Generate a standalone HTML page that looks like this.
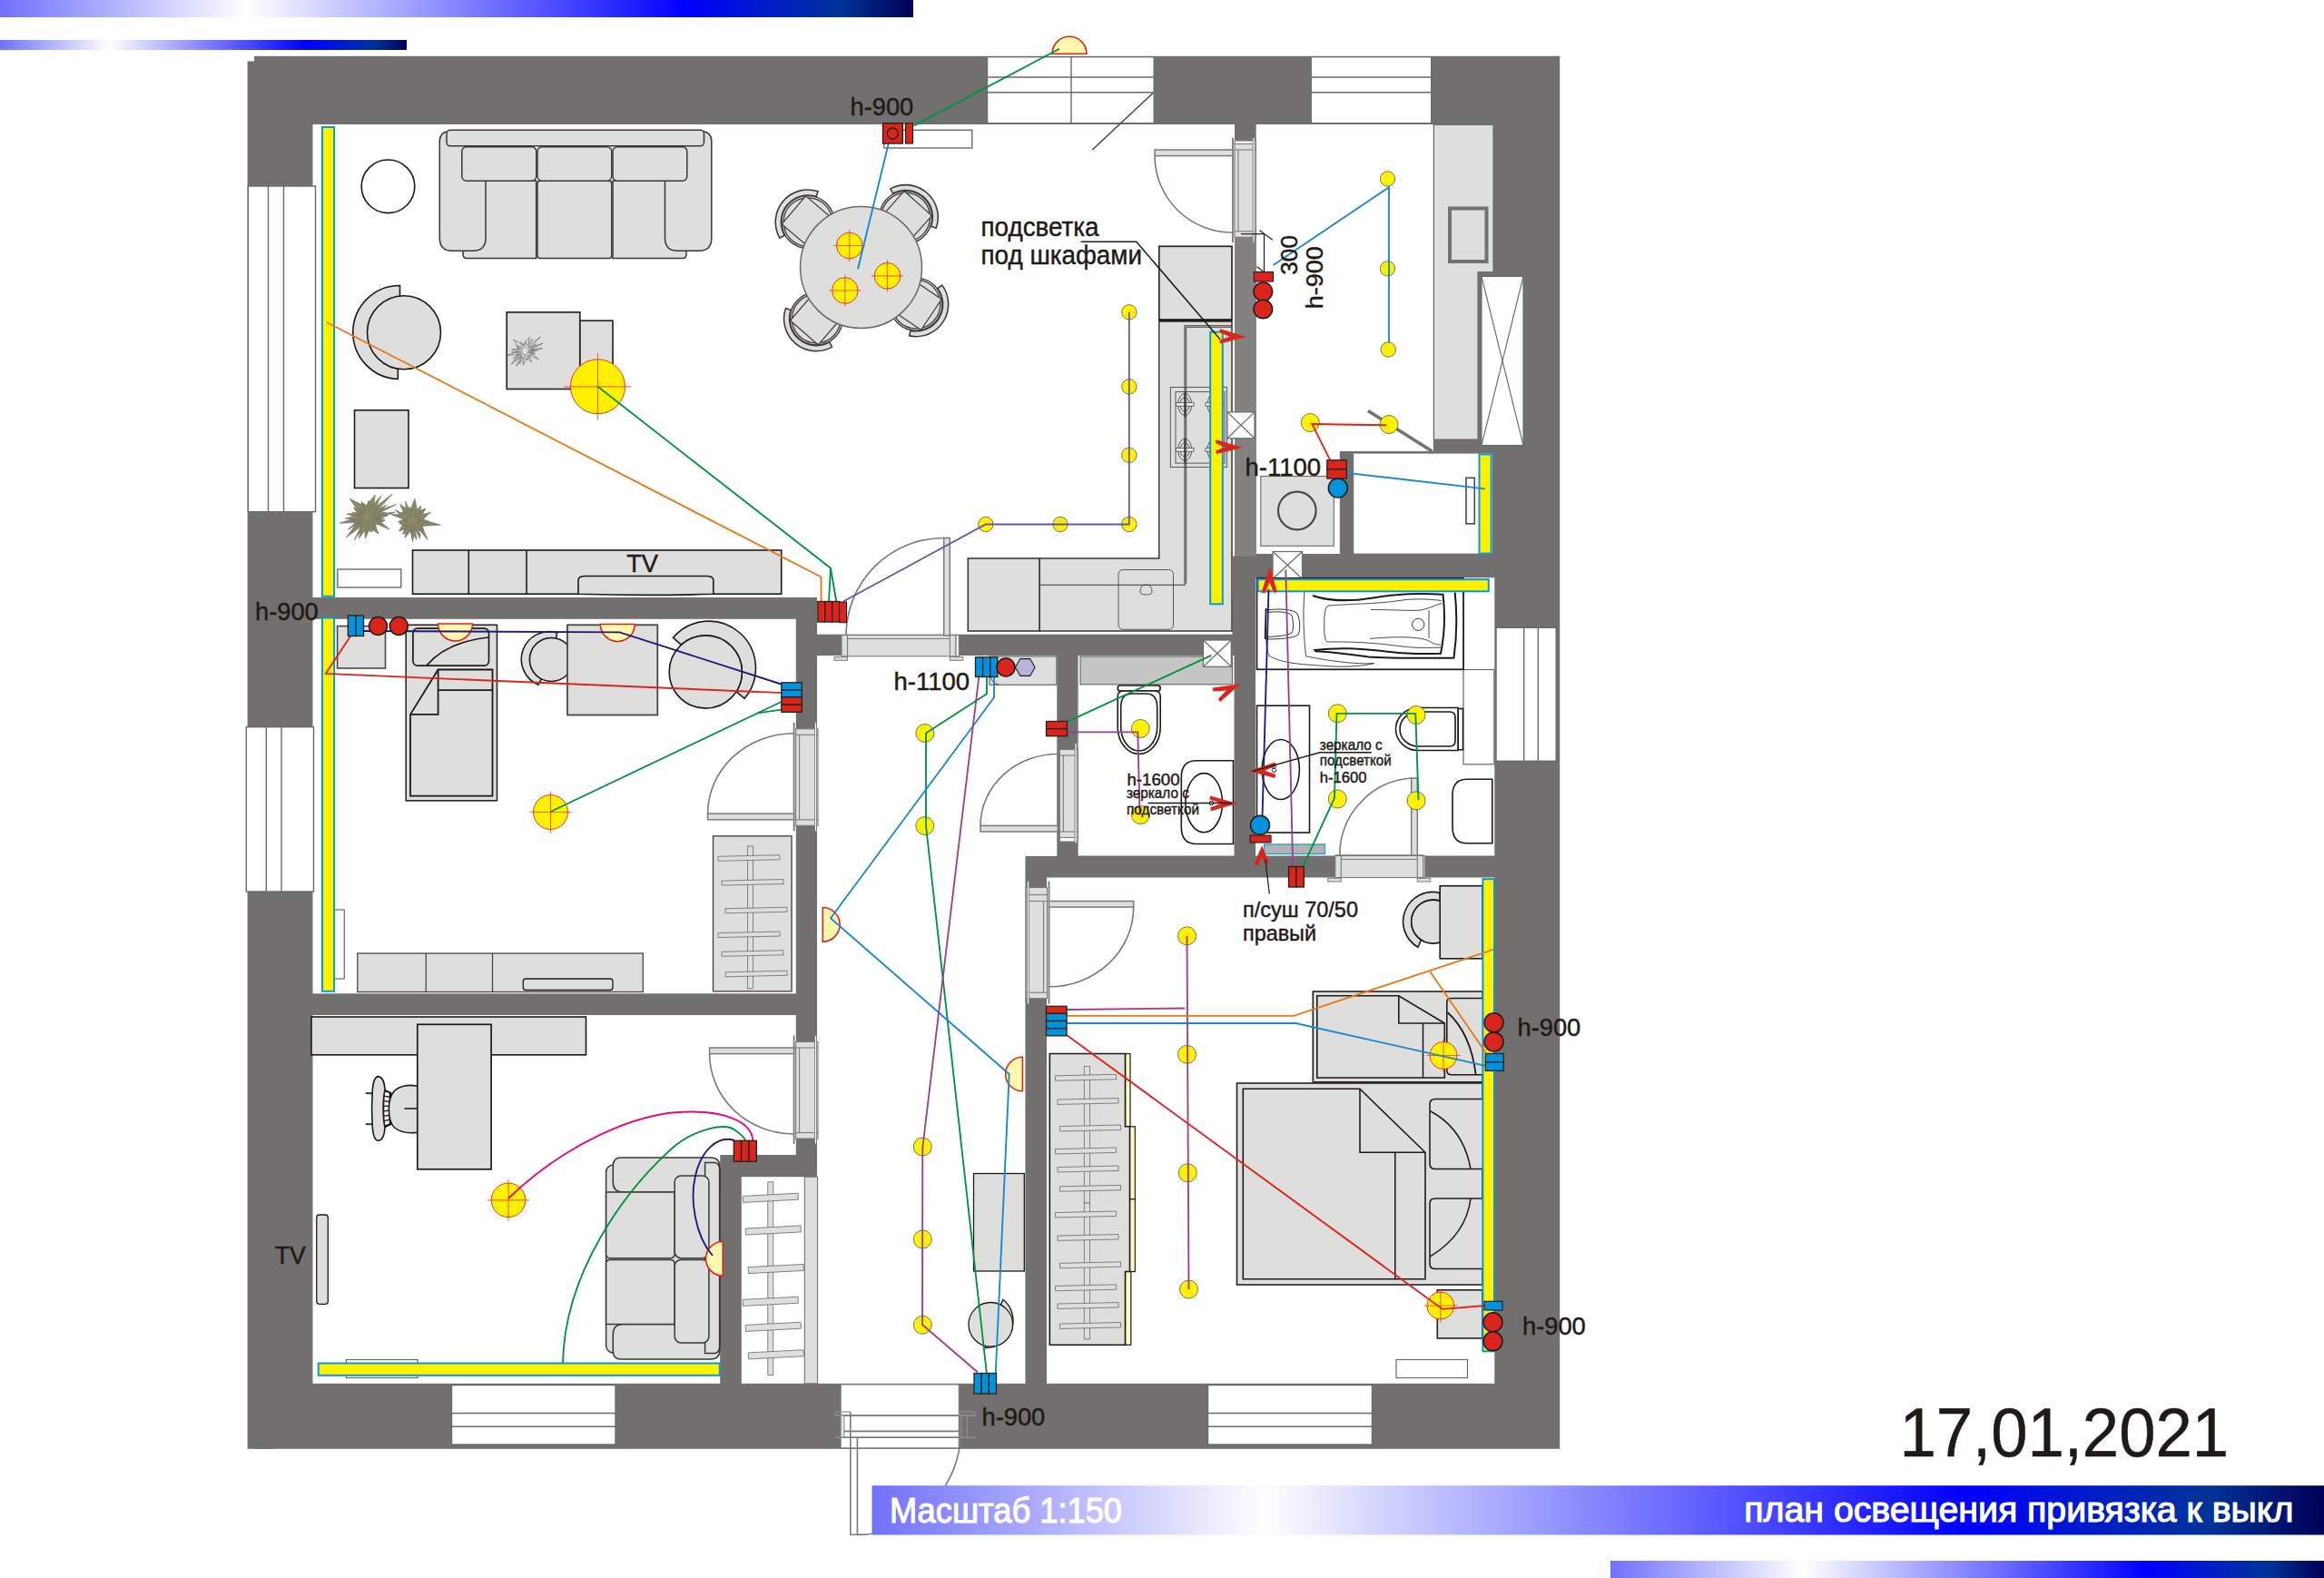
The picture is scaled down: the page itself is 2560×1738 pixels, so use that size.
<!DOCTYPE html>
<html><head><meta charset="utf-8"><title>план освещения</title>
<style>
html,body{margin:0;padding:0;background:#fff;}
body{width:2560px;height:1738px;overflow:hidden;}
svg{display:block;font-family:"Liberation Sans",sans-serif;}
</style></head><body>
<svg width="2560" height="1738" viewBox="0 0 2560 1738">
<defs>
<linearGradient id="gbar" x1="0" x2="1" y1="0" y2="0">
<stop offset="0" stop-color="#7070fc"/>
<stop offset="0.27" stop-color="#ffffff"/>
<stop offset="0.75" stop-color="#0000ff"/>
<stop offset="0.92" stop-color="#003399"/>
<stop offset="1" stop-color="#000055"/>
</linearGradient>
</defs>
<rect x="0.0" y="0.0" width="2560.0" height="1738.0" fill="#fff" stroke="none" stroke-width="1" />
<rect x="280.0" y="61.8" width="1438.2" height="1534.0" fill="#72706f" stroke="none" stroke-width="1" />
<rect x="272.6" y="67.5" width="27.4" height="1528.3" fill="#72706f" stroke="none" stroke-width="1" />
<rect x="344.5" y="137.0" width="1015.5" height="521.0" fill="#fff" stroke="none" stroke-width="1" />
<rect x="900.0" y="658.0" width="457.5" height="40.7" fill="#fff" stroke="none" stroke-width="1" />
<rect x="900.0" y="722.0" width="264.3" height="221.0" fill="#fff" stroke="none" stroke-width="1" />
<rect x="900.0" y="943.0" width="229.4" height="580.8" fill="#fff" stroke="none" stroke-width="1" />
<rect x="344.5" y="681.8" width="532.3" height="412.5" fill="#fff" stroke="none" stroke-width="1" />
<rect x="344.5" y="1118.0" width="532.3" height="154.0" fill="#fff" stroke="none" stroke-width="1" />
<rect x="344.5" y="1272.0" width="448.7" height="251.8" fill="#fff" stroke="none" stroke-width="1" />
<rect x="816.8" y="1296.2" width="83.8" height="227.6" fill="#fff" stroke="none" stroke-width="1" />
<rect x="1187.6" y="722.0" width="171.9" height="220.5" fill="#fff" stroke="none" stroke-width="1" />
<rect x="1383.0" y="636.3" width="263.3" height="306.2" fill="#fff" stroke="none" stroke-width="1" />
<rect x="1153.0" y="966.5" width="493.3" height="557.3" fill="#fff" stroke="none" stroke-width="1" />
<rect x="1383.7" y="137.0" width="195.1" height="360.0" fill="#fff" stroke="none" stroke-width="1" />
<rect x="1383.7" y="497.0" width="92.1" height="113.0" fill="#fff" stroke="none" stroke-width="1" />
<rect x="1491.2" y="499.6" width="152.6" height="110.0" fill="#fff" stroke="none" stroke-width="1" />
<rect x="1360.0" y="259.5" width="23.7" height="353.0" fill="#838281" stroke="none" stroke-width="1" />
<rect x="273.3" y="205.0" width="74.2" height="358.7" fill="#fff" stroke="#6b6a69" stroke-width="1.4" />
<line x1="295.5" y1="205.0" x2="295.5" y2="563.7" stroke="#6b6a69" stroke-width="1.4" />
<line x1="312.5" y1="205.0" x2="312.5" y2="563.7" stroke="#6b6a69" stroke-width="1.4" />
<rect x="271.3" y="800.7" width="74.2" height="181.3" fill="#fff" stroke="#6b6a69" stroke-width="1.4" />
<line x1="293.3" y1="800.7" x2="293.3" y2="982.0" stroke="#6b6a69" stroke-width="1.4" />
<line x1="310.0" y1="800.7" x2="310.0" y2="982.0" stroke="#6b6a69" stroke-width="1.4" />
<rect x="1087.5" y="62.7" width="183.7" height="73.0" fill="#fff" stroke="#6b6a69" stroke-width="1.4" />
<line x1="1087.5" y1="85.0" x2="1271.2" y2="85.0" stroke="#6b6a69" stroke-width="1.4" />
<line x1="1087.5" y1="101.7" x2="1271.2" y2="101.7" stroke="#6b6a69" stroke-width="1.4" />
<line x1="1180.0" y1="62.7" x2="1180.0" y2="135.7" stroke="#6b6a69" stroke-width="1.4" />
<rect x="1444.2" y="62.7" width="132.5" height="73.0" fill="#fff" stroke="#6b6a69" stroke-width="1.4" />
<line x1="1444.2" y1="85.0" x2="1576.7" y2="85.0" stroke="#6b6a69" stroke-width="1.4" />
<line x1="1444.2" y1="101.7" x2="1576.7" y2="101.7" stroke="#6b6a69" stroke-width="1.4" />
<rect x="497.5" y="1525.5" width="180.5" height="65.5" fill="#fff" stroke="#6b6a69" stroke-width="1.4" />
<line x1="497.5" y1="1556.5" x2="678.0" y2="1556.5" stroke="#6b6a69" stroke-width="1.4" />
<line x1="497.5" y1="1571.3" x2="678.0" y2="1571.3" stroke="#6b6a69" stroke-width="1.4" />
<rect x="1330.5" y="1525.5" width="181.0" height="65.5" fill="#fff" stroke="#6b6a69" stroke-width="1.4" />
<line x1="1330.5" y1="1556.5" x2="1511.5" y2="1556.5" stroke="#6b6a69" stroke-width="1.4" />
<line x1="1330.5" y1="1571.3" x2="1511.5" y2="1571.3" stroke="#6b6a69" stroke-width="1.4" />
<rect x="1648.0" y="691.3" width="66.2" height="147.0" fill="#fff" stroke="#6b6a69" stroke-width="1.4" />
<line x1="1678.7" y1="691.3" x2="1678.7" y2="838.3" stroke="#6b6a69" stroke-width="1.4" />
<line x1="1694.3" y1="691.3" x2="1694.3" y2="838.3" stroke="#6b6a69" stroke-width="1.4" />
<rect x="876.6" y="802.8" width="24.4" height="106.5" fill="#dededd" stroke="#7b7a79" stroke-width="1.1" />
<line x1="876.6" y1="809.3" x2="901.0" y2="809.3" stroke="#7b7a79" stroke-width="1.1" />
<line x1="876.6" y1="902.8" x2="901.0" y2="902.8" stroke="#7b7a79" stroke-width="1.1" />
<line x1="874.6" y1="795.8" x2="874.6" y2="915.3" stroke="#7b7a79" stroke-width="1.8" />
<rect x="897.5" y="795.8" width="2.0" height="119.5" fill="#fff" stroke="#7b7a79" stroke-width="0.9" />
<line x1="880.6" y1="809.3" x2="880.6" y2="902.8" stroke="#7b7a79" stroke-width="1.1" />
<rect x="779.6" y="896.2" width="95.0" height="6.6" fill="#dededd" stroke="#7b7a79" stroke-width="1.5" />
<path d="M779.6,896.2 A95.0,88.4 0 0 1 874.6,807.8" fill="none" stroke="#7b7a79" stroke-width="1.6" />
<rect x="876.6" y="1147.5" width="24.4" height="106.5" fill="#dededd" stroke="#7b7a79" stroke-width="1.1" />
<line x1="876.6" y1="1154.0" x2="901.0" y2="1154.0" stroke="#7b7a79" stroke-width="1.1" />
<line x1="876.6" y1="1247.5" x2="901.0" y2="1247.5" stroke="#7b7a79" stroke-width="1.1" />
<line x1="874.6" y1="1140.5" x2="874.6" y2="1260.0" stroke="#7b7a79" stroke-width="1.8" />
<rect x="897.5" y="1140.5" width="2.0" height="119.5" fill="#fff" stroke="#7b7a79" stroke-width="0.9" />
<line x1="880.6" y1="1154.0" x2="880.6" y2="1247.5" stroke="#7b7a79" stroke-width="1.1" />
<rect x="781.6" y="1154.0" width="93.0" height="6.6" fill="#dededd" stroke="#7b7a79" stroke-width="1.5" />
<path d="M781.6,1160.6 A93.0,88.4 0 0 0 874.6,1249.0" fill="none" stroke="#7b7a79" stroke-width="1.6" />
<rect x="1167.3" y="922.5" width="20.2" height="4.5" fill="#fff" stroke="#7b7a79" stroke-width="1.1" />
<rect x="1167.3" y="825.5" width="20.2" height="97.0" fill="#dededd" stroke="#7b7a79" stroke-width="1.1" />
<line x1="1167.3" y1="832.0" x2="1187.5" y2="832.0" stroke="#7b7a79" stroke-width="1.1" />
<line x1="1167.3" y1="916.0" x2="1187.5" y2="916.0" stroke="#7b7a79" stroke-width="1.1" />
<line x1="1165.3" y1="818.5" x2="1165.3" y2="928.5" stroke="#7b7a79" stroke-width="1.8" />
<rect x="1184.0" y="818.5" width="2.0" height="110.0" fill="#fff" stroke="#7b7a79" stroke-width="0.9" />
<line x1="1171.3" y1="832.0" x2="1171.3" y2="916.0" stroke="#7b7a79" stroke-width="1.1" />
<rect x="1080.0" y="909.4" width="85.3" height="6.6" fill="#dededd" stroke="#7b7a79" stroke-width="1.5" />
<path d="M1080.0,909.4 A85.3,78.9 0 0 1 1165.3,830.5" fill="none" stroke="#7b7a79" stroke-width="1.6" />
<rect x="1130.0" y="977.5" width="23.5" height="122.2" fill="#dededd" stroke="#7b7a79" stroke-width="1.1" />
<line x1="1130.0" y1="992.5" x2="1153.5" y2="992.5" stroke="#7b7a79" stroke-width="1.1" />
<line x1="1130.0" y1="1093.2" x2="1153.5" y2="1093.2" stroke="#7b7a79" stroke-width="1.1" />
<line x1="1130.0" y1="985.5" x2="1153.5" y2="985.5" stroke="#7b7a79" stroke-width="1.1" />
<line x1="1155.5" y1="970.5" x2="1155.5" y2="1105.7" stroke="#7b7a79" stroke-width="1.8" />
<rect x="1131.5" y="970.5" width="2.0" height="135.2" fill="#fff" stroke="#7b7a79" stroke-width="0.9" />
<line x1="1149.5" y1="992.5" x2="1149.5" y2="1093.2" stroke="#7b7a79" stroke-width="1.1" />
<rect x="1155.5" y="992.5" width="93.2" height="6.6" fill="#dededd" stroke="#7b7a79" stroke-width="1.5" />
<path d="M1248.7,999.1 A93.2,87.7 0 0 1 1155.5,1086.8" fill="none" stroke="#7b7a79" stroke-width="1.6" />
<rect x="1360.0" y="155.0" width="23.5" height="3.5" fill="#fff" stroke="#7b7a79" stroke-width="1.1" />
<rect x="1360.0" y="158.5" width="23.5" height="102.8" fill="#dededd" stroke="#7b7a79" stroke-width="1.1" />
<line x1="1360.0" y1="165.0" x2="1383.5" y2="165.0" stroke="#7b7a79" stroke-width="1.1" />
<line x1="1360.0" y1="254.8" x2="1383.5" y2="254.8" stroke="#7b7a79" stroke-width="1.1" />
<line x1="1358.0" y1="151.5" x2="1358.0" y2="267.3" stroke="#7b7a79" stroke-width="1.8" />
<rect x="1380.0" y="151.5" width="2.0" height="115.8" fill="#fff" stroke="#7b7a79" stroke-width="0.9" />
<line x1="1364.0" y1="165.0" x2="1364.0" y2="254.8" stroke="#7b7a79" stroke-width="1.1" />
<rect x="1272.0" y="165.0" width="86.0" height="6.6" fill="#dededd" stroke="#7b7a79" stroke-width="1.5" />
<path d="M1272.0,171.6 A86.0,84.7 0 0 0 1358.0,256.3" fill="none" stroke="#7b7a79" stroke-width="1.6" />
<rect x="1052.8" y="699.5" width="3.5" height="23.3" fill="#fff" stroke="#7b7a79" stroke-width="1.1" />
<rect x="927.0" y="699.5" width="125.8" height="23.3" fill="#dededd" stroke="#7b7a79" stroke-width="1.1" />
<line x1="933.5" y1="699.5" x2="933.5" y2="722.8" stroke="#7b7a79" stroke-width="1.1" />
<line x1="1046.3" y1="699.5" x2="1046.3" y2="722.8" stroke="#7b7a79" stroke-width="1.1" />
<rect x="919.0" y="723.6" width="14.5" height="3.7" fill="#dededd" stroke="#7b7a79" stroke-width="1" />
<rect x="1046.3" y="723.6" width="14.5" height="3.7" fill="#dededd" stroke="#7b7a79" stroke-width="1" />
<line x1="933.5" y1="703.5" x2="1046.3" y2="703.5" stroke="#7b7a79" stroke-width="1.1" />
<rect x="1039.7" y="592.5" width="6.6" height="107.5" fill="#dededd" stroke="#7b7a79" stroke-width="1.5" />
<path d="M1039.7,592.5 A107.5,107.5 0 0 0 932.0,700.0" fill="none" stroke="#7b7a79" stroke-width="1.6" />
<rect x="1567.8" y="942.5" width="2.0" height="24.0" fill="#fff" stroke="#7b7a79" stroke-width="1.1" />
<rect x="1470.8" y="942.5" width="97.0" height="24.0" fill="#dededd" stroke="#7b7a79" stroke-width="1.1" />
<line x1="1477.3" y1="942.5" x2="1477.3" y2="966.5" stroke="#7b7a79" stroke-width="1.1" />
<line x1="1561.3" y1="942.5" x2="1561.3" y2="966.5" stroke="#7b7a79" stroke-width="1.1" />
<line x1="1470.8" y1="942.0" x2="1567.8" y2="942.0" stroke="#7b7a79" stroke-width="1.6" />
<rect x="1462.8" y="967.3" width="14.5" height="3.7" fill="#dededd" stroke="#7b7a79" stroke-width="1" />
<rect x="1561.3" y="967.3" width="14.5" height="3.7" fill="#dededd" stroke="#7b7a79" stroke-width="1" />
<line x1="1477.3" y1="946.5" x2="1561.3" y2="946.5" stroke="#7b7a79" stroke-width="1.1" />
<rect x="1554.7" y="857.0" width="6.6" height="85.0" fill="#dededd" stroke="#7b7a79" stroke-width="1.5" />
<path d="M1554.7,857.0 A85.0,85.0 0 0 0 1475.8,942.0" fill="none" stroke="#7b7a79" stroke-width="1.6" />
<rect x="926.0" y="1524.7" width="130.5" height="70.3" fill="#fff" stroke="#7b7a79" stroke-width="1.5" />
<rect x="920.3" y="1555.0" width="16.5" height="4.0" fill="none" stroke="#8f8e8d" stroke-width="1.2" />
<rect x="1057.0" y="1555.0" width="17.3" height="4.0" fill="none" stroke="#8f8e8d" stroke-width="1.2" />
<line x1="920.3" y1="1559.0" x2="1074.3" y2="1559.0" stroke="#8f8e8d" stroke-width="1.5" />
<line x1="920.3" y1="1583.3" x2="1074.3" y2="1583.3" stroke="#8f8e8d" stroke-width="1.5" />
<line x1="926.0" y1="1559.0" x2="1056.5" y2="1559.0" stroke="#7b7a79" stroke-width="1.6" />
<line x1="929.8" y1="1576.4" x2="1065.4" y2="1576.4" stroke="#7b7a79" stroke-width="1.6" />
<line x1="926.0" y1="1583.3" x2="1056.5" y2="1583.3" stroke="#7b7a79" stroke-width="1.6" />
<rect x="926.2" y="1559.0" width="3.6" height="24.0" fill="#e8e8e8" stroke="#8f8e8d" stroke-width="1.1" />
<line x1="1059.0" y1="1559.0" x2="1059.0" y2="1583.0" stroke="#8f8e8d" stroke-width="1.2" />
<line x1="1065.4" y1="1559.0" x2="1065.4" y2="1583.0" stroke="#8f8e8d" stroke-width="1.2" />
<path d="M936.8,1555.8 L936.8,1690.3 L944.4,1690.3 L944.4,1583.3" fill="none" stroke="#7b7a79" stroke-width="1.6" />
<path d="M1058.4,1576.4 A114,114 0 0 1 944.4,1690.4" fill="none" stroke="#7b7a79" stroke-width="1.6" />
<circle cx="427.5" cy="205.3" r="29.3" fill="#fff" stroke="#1f1a17" stroke-width="1.6" />
<path d="M510,199 L510,280 Q510,284.5 514,284.5 L590.7,284.5 L590.7,199 Z" fill="#dededd" stroke="#3b3733" stroke-width="1.5" />
<rect x="592.0" y="199.3" width="81.8" height="85.2" rx="3" ry="3" fill="#dededd" stroke="#3b3733" stroke-width="1.5"/>
<path d="M675,199 L675,284.5 L752,284.5 Q756,284.5 756,280 L756,199 Z" fill="#dededd" stroke="#3b3733" stroke-width="1.5" />
<path d="M484.3,155 Q484.3,146 494,144.5 L535,146 L535,262 Q535,276.3 521,276.3 L498,276.3 Q484.3,276.3 484.3,262 Z" fill="#dededd" stroke="#3b3733" stroke-width="1.5" />
<path d="M783.8,155 Q783.8,146 774,144.5 L732.5,146 L732.5,262 Q732.5,276.3 746.5,276.3 L770,276.3 Q783.8,276.3 783.8,262 Z" fill="#dededd" stroke="#3b3733" stroke-width="1.5" />
<rect x="508.8" y="161.8" width="82.0" height="37.5" rx="5" ry="5" fill="#dededd" stroke="#3b3733" stroke-width="1.5"/>
<rect x="592.0" y="161.8" width="81.8" height="37.5" rx="5" ry="5" fill="#dededd" stroke="#3b3733" stroke-width="1.5"/>
<rect x="675.0" y="161.8" width="81.8" height="37.5" rx="5" ry="5" fill="#dededd" stroke="#3b3733" stroke-width="1.5"/>
<rect x="492.0" y="143.3" width="283.5" height="17.5" rx="4" ry="4" fill="#dededd" stroke="#3b3733" stroke-width="1.5"/>
<path d="M440.5,314.5 A51.52,51.52 0 0 0 438.3,417.5 L438.3,406 L440.5,326 Z" fill="#dededd" stroke="#1f1a17" stroke-width="1.6" />
<circle cx="445.0" cy="366.3" r="40.5" fill="#dededd" stroke="#1f1a17" stroke-width="1.6" />
<rect x="638.5" y="353.2" width="36.5" height="74.8" fill="#dededd" stroke="#2b2724" stroke-width="1.7" />
<rect x="558.2" y="343.9" width="80.6" height="84.6" fill="#dededd" stroke="#2b2724" stroke-width="1.7" />
<rect x="390.5" y="451.8" width="59.5" height="85.7" fill="#dededd" stroke="#1f1a17" stroke-width="1.6" />
<polygon points="382.2,566.2 395.7,564.5 385.2,549.2 402.5,557.9 413.2,545.2 411.2,559.9 432.2,544.2 415.1,562.7 436.2,555.7 416.6,565.8 435.2,564.2 415.0,571.0 429.2,583.2 412.3,576.0 417.2,588.2 408.0,581.6 402.2,593.2 401.8,579.3 390.2,594.8 398.6,577.5 381.2,592.2 393.6,575.5 374.2,576.2 393.8,569.7" fill="#8c8a64" stroke="#707068" stroke-width="0.7" />
<polygon points="389.2,559.2 398.7,561.5 398.2,552.2 403.6,559.6 406.2,551.2 408.4,559.0 419.7,546.2 412.2,562.3 426.2,556.2 414.3,566.4 427.2,568.2 415.8,570.1 424.2,573.2 414.1,577.8 409.2,586.2 404.2,581.2 395.2,593.2 398.6,579.1 386.2,588.2 397.3,575.5 383.2,583.2 394.7,572.7 380.2,571.2 395.2,566.8" fill="#8c8a64" stroke="#707068" stroke-width="0.7" />
<polygon points="430.6,566.4 445.6,567.3 440.6,555.4 451.5,562.6 457.0,549.4 459.7,563.2 469.1,559.9 464.8,567.3 469.6,568.4 465.8,572.5 485.3,578.2 464.8,579.4 471.1,594.4 459.5,581.0 463.6,590.4 457.1,583.5 454.6,596.4 452.1,585.0 446.0,592.4 447.8,582.0 439.6,585.0 443.6,577.5 438.6,574.4 445.4,572.4" fill="#8c8a64" stroke="#707068" stroke-width="0.7" />
<polygon points="435.6,561.4 445.5,567.4 441.6,564.4 447.9,564.7 446.6,551.9 451.6,563.9 450.6,558.4 455.8,564.2 464.1,556.9 460.9,567.7 474.6,564.4 464.9,571.5 472.6,574.4 463.8,577.0 466.6,583.4 460.9,582.1 462.6,593.4 457.4,582.6 459.0,594.4 452.3,584.0 443.6,588.4 446.9,578.6 440.0,577.0 443.8,571.7" fill="#8c8a64" stroke="#707068" stroke-width="0.7" />
<polygon points="388.4,564.4 398.4,565.9 394.9,561.7 401.1,563.3 400.8,554.3 407.4,561.1 415.4,559.7 411.3,565.9 424.8,564.3 413.3,568.6 423.7,570.9 412.7,570.8 421.0,574.7 410.6,573.6 413.1,582.3 407.6,576.9 406.0,581.5 403.3,575.8 397.4,580.0 399.4,574.5 391.2,577.6 398.8,571.9 387.6,574.0 398.2,569.2" fill="#8c8a64" stroke="#74736a" stroke-width="0.7" />
<polygon points="444.2,573.0 448.1,571.1 447.5,568.2 448.7,567.2 447.0,562.0 452.8,567.0 455.1,560.9 457.8,566.1 464.1,564.2 460.6,570.8 465.5,572.9 461.4,574.5 462.7,576.6 461.6,578.4 465.8,586.3 456.9,579.9 454.1,588.1 453.6,581.2 452.4,583.7 451.3,580.0 446.5,583.1 448.8,577.9 444.3,578.3 447.3,574.9" fill="#8c8a64" stroke="#74736a" stroke-width="0.7" />
<polygon points="394.9,567.9 400.5,567.6 395.8,563.9 401.3,566.4 397.5,562.2 402.7,565.5 401.8,559.8 405.0,563.7 407.3,562.0 407.6,565.7 411.0,564.7 409.7,567.1 412.2,567.7 410.8,569.4 415.6,572.3 409.0,571.4 412.5,575.9 407.9,573.5 407.9,577.6 406.2,574.3 405.7,577.0 403.1,573.0 399.1,572.6 400.5,570.1" fill="#8c8a64" stroke="#74736a" stroke-width="0.6" />
<polygon points="446.1,572.3 450.2,570.8 450.3,567.3 453.3,568.7 455.1,567.4 457.0,568.9 461.6,567.8 458.2,570.6 459.7,569.6 459.8,571.6 463.8,573.2 460.1,573.5 460.8,573.8 459.3,575.7 459.6,579.1 456.4,577.5 455.4,582.1 453.9,578.4 451.9,580.1 451.5,577.0 449.3,576.6 450.2,574.8 446.0,573.8 448.9,573.2" fill="#8c8a64" stroke="#74736a" stroke-width="0.6" />
<polygon points="563.5,384.9 572.4,384.0 565.5,374.1 576.6,379.9 583.3,371.5 581.8,381.1 595.4,370.9 584.2,382.9 597.9,378.2 585.2,384.7 597.3,383.6 584.2,387.9 593.5,395.7 582.5,391.0 585.8,398.9 579.9,394.3 576.3,402.1 576.1,393.0 568.6,403.1 574.2,391.9 562.9,401.5 571.1,390.6 558.5,391.3 571.3,387.1" fill="none" stroke="#6b6a69" stroke-width="0.7" />
<polygon points="568.6,380.8 574.3,382.2 574.0,376.6 577.2,381.2 578.8,376.0 580.1,380.8 586.9,373.0 582.3,382.7 590.8,379.0 583.6,385.1 591.4,386.2 584.5,387.3 589.6,389.2 583.4,391.9 580.6,397.0 577.6,393.9 572.2,401.2 574.3,392.6 566.8,398.2 573.6,390.5 565.0,395.2 572.0,388.9 563.2,388.0 572.3,385.4" fill="none" stroke="#6b6a69" stroke-width="0.6" />
<polygon points="569.3,383.3 575.4,385.1 573.0,382.2 576.7,384.1 576.6,378.5 579.5,383.4 584.2,382.2 581.0,385.6 589.1,385.2 581.7,386.9 588.2,388.7 581.4,387.8 586.5,390.6 580.4,388.9 581.8,394.3 578.9,390.2 578.0,393.5 577.1,389.6 573.4,392.2 575.5,388.9 570.1,390.6 575.3,387.7 568.4,388.4 575.1,386.5" fill="none" stroke="#6b6a69" stroke-width="0.5" />
<rect x="371.8" y="627.0" width="70.0" height="20.0" fill="#fff" stroke="#6b6a69" stroke-width="1.4" />
<rect x="454.5" y="606.0" width="406.2" height="48.2" fill="#dededd" stroke="#1f1a17" stroke-width="1.6" />
<line x1="516.3" y1="606.0" x2="516.3" y2="654.2" stroke="#1f1a17" stroke-width="1.6" />
<line x1="580.0" y1="606.0" x2="580.0" y2="654.2" stroke="#1f1a17" stroke-width="1.6" />
<path d="M637,654.3 L637,639 Q637,634.5 645,634.5 L778,634.5 Q785.8,634.5 785.8,639 L785.8,654.3 Q711,656.5 637,654.3 Z" fill="#dededd" stroke="#1f1a17" stroke-width="1.6" />
<rect x="973.8" y="143.3" width="97.0" height="19.7" fill="#fff" stroke="#6b6a69" stroke-width="1.4" />
<line x1="1270.0" y1="102.5" x2="1203.3" y2="165.0" stroke="#4a4847" stroke-width="1.6" />
<circle cx="889.9" cy="244.6" r="29.0" fill="#dededd" stroke="#3f3b38" stroke-width="1.4" />
<circle cx="889.9" cy="244.6" r="26.8" fill="#dededd" stroke="#3f3b38" stroke-width="1.3" />
<rect x="869.5" y="224.2" width="40.8" height="40.8" rx="2" fill="#dededd" stroke="#3f3b38" stroke-width="1.2" transform="rotate(-139.6 889.9 244.6)"/>
<path d="M858.9,262.2 A35.6,35.6 0 0 1 901.1,210.8 L899.2,216.5 A29.6,29.6 0 0 0 864.2,259.2 Z" fill="#dededd" stroke="#3f3b38" stroke-width="1.6" />
<circle cx="997.7" cy="239.2" r="29.0" fill="#dededd" stroke="#3f3b38" stroke-width="1.4" />
<circle cx="997.7" cy="239.2" r="26.8" fill="#dededd" stroke="#3f3b38" stroke-width="1.3" />
<rect x="977.3" y="218.8" width="40.8" height="40.8" rx="2" fill="#dededd" stroke="#3f3b38" stroke-width="1.2" transform="rotate(-48.3 997.7 239.2)"/>
<path d="M980.8,207.9 A35.6,35.6 0 0 1 1031.2,251.2 L1025.6,249.2 A29.6,29.6 0 0 0 983.7,213.1 Z" fill="#dededd" stroke="#3f3b38" stroke-width="1.6" />
<circle cx="1009.0" cy="335.1" r="29.0" fill="#dededd" stroke="#3f3b38" stroke-width="1.4" />
<circle cx="1009.0" cy="335.1" r="26.8" fill="#dededd" stroke="#3f3b38" stroke-width="1.3" />
<rect x="988.6" y="314.7" width="40.8" height="40.8" rx="2" fill="#dededd" stroke="#3f3b38" stroke-width="1.2" transform="rotate(33.9 1009.0 335.1)"/>
<path d="M1037.8,314.1 A35.6,35.6 0 0 1 1001.7,369.9 L1002.9,364.1 A29.6,29.6 0 0 0 1032.9,317.7 Z" fill="#dededd" stroke="#3f3b38" stroke-width="1.6" />
<circle cx="899.2" cy="351.0" r="29.0" fill="#dededd" stroke="#3f3b38" stroke-width="1.4" />
<circle cx="899.2" cy="351.0" r="26.8" fill="#dededd" stroke="#3f3b38" stroke-width="1.3" />
<rect x="878.8" y="330.6" width="40.8" height="40.8" rx="2" fill="#dededd" stroke="#3f3b38" stroke-width="1.2" transform="rotate(131.0 899.2 351.0)"/>
<path d="M916.5,382.1 A35.6,35.6 0 0 1 865.5,339.4 L871.2,341.4 A29.6,29.6 0 0 0 913.6,376.9 Z" fill="#dededd" stroke="#3f3b38" stroke-width="1.6" />
<circle cx="948.5" cy="294.5" r="67.0" fill="#dededd" stroke="#6b6a5f" stroke-width="1.5" />
<rect x="1276.8" y="271.3" width="80.2" height="81.2" fill="#dededd" stroke="#2b2724" stroke-width="1.7" />
<path d="M1276.8,354 L1357,354 L1357,695 L1145,695 L1145,615 L1276.8,615 Z" fill="#dededd" stroke="#3a3735" stroke-width="1.5" />
<line x1="1276.8" y1="352.6" x2="1357.0" y2="352.6" stroke="#1f1a17" stroke-width="2.6" />
<rect x="1066.3" y="615.0" width="78.7" height="80.0" fill="#dededd" stroke="#3a3735" stroke-width="1.6" />
<rect x="1232.0" y="627.5" width="60.5" height="65.8" rx="5" ry="5" fill="none" stroke="#3a3735" stroke-width="0.8"/>
<path d="M1256,652 Q1256,644 1262.5,644 Q1269,644 1269,652 Q1269,655 1262.5,655 Q1256,655 1256,652 Z" fill="none" stroke="#3a3735" stroke-width="0.8" />
<rect x="1289.3" y="426.5" width="62.0" height="88.0" fill="#dededd" stroke="#4a4847" stroke-width="0.9" />
<rect x="1295.0" y="431.6" width="54.0" height="78.5" fill="none" stroke="#4a4847" stroke-width="0.9" />
<ellipse cx="1305.2" cy="445.4" rx="7.5" ry="12" fill="none" stroke="#4a4847" stroke-width="0.9"/>
<ellipse cx="1305.2" cy="445.4" rx="5.1" ry="7.8" fill="none" stroke="#4a4847" stroke-width="0.9"/>
<rect x="1295.7" y="443.6" width="19.3" height="3.6" fill="#eeeeed" stroke="#4a4847" stroke-width="0.8" />
<line x1="1305.2" y1="432.4" x2="1305.2" y2="459.4" stroke="#4a4847" stroke-width="1.6" />
<ellipse cx="1305.2" cy="495.4" rx="7.5" ry="12" fill="none" stroke="#4a4847" stroke-width="0.9"/>
<ellipse cx="1305.2" cy="495.4" rx="5.1" ry="7.8" fill="none" stroke="#4a4847" stroke-width="0.9"/>
<rect x="1295.7" y="493.6" width="19.3" height="3.6" fill="#eeeeed" stroke="#4a4847" stroke-width="0.8" />
<line x1="1305.2" y1="482.4" x2="1305.2" y2="509.4" stroke="#4a4847" stroke-width="1.6" />
<ellipse cx="1337.5" cy="445.4" rx="7.5" ry="12" fill="none" stroke="#4a4847" stroke-width="0.9"/>
<ellipse cx="1337.5" cy="445.4" rx="5.1" ry="7.8" fill="none" stroke="#4a4847" stroke-width="0.9"/>
<rect x="1328.0" y="443.6" width="19.3" height="3.6" fill="#eeeeed" stroke="#4a4847" stroke-width="0.8" />
<line x1="1337.5" y1="432.4" x2="1337.5" y2="459.4" stroke="#4a4847" stroke-width="1.6" />
<ellipse cx="1337.5" cy="495.4" rx="7.5" ry="12" fill="none" stroke="#4a4847" stroke-width="0.9"/>
<ellipse cx="1337.5" cy="495.4" rx="5.1" ry="7.8" fill="none" stroke="#4a4847" stroke-width="0.9"/>
<rect x="1328.0" y="493.6" width="19.3" height="3.6" fill="#eeeeed" stroke="#4a4847" stroke-width="0.8" />
<line x1="1337.5" y1="482.4" x2="1337.5" y2="509.4" stroke="#4a4847" stroke-width="1.6" />
<polyline points="1357.0,358.7 1305.0,358.7 1305.0,644.3 1145.0,644.3" fill="none" stroke="#3a3735" stroke-width="1.1" />
<polyline points="1357.0,360.3 1306.7,360.3 1306.7,642.7" fill="none" stroke="#3a3735" stroke-width="0.9" />
<rect x="1351.9" y="453.9" width="30.1" height="28.9" fill="#fff" stroke="#6b6a69" stroke-width="1.2" />
<line x1="1351.9" y1="453.9" x2="1382.0" y2="482.8" stroke="#6b6a69" stroke-width="1.2" />
<line x1="1382.0" y1="453.9" x2="1351.9" y2="482.8" stroke="#6b6a69" stroke-width="1.2" />
<rect x="1325.5" y="705.0" width="30.8" height="29.3" fill="#fff" stroke="#6b6a69" stroke-width="1.2" />
<line x1="1325.5" y1="705.0" x2="1356.3" y2="734.3" stroke="#6b6a69" stroke-width="1.2" />
<line x1="1356.3" y1="705.0" x2="1325.5" y2="734.3" stroke="#6b6a69" stroke-width="1.2" />
<rect x="1402.0" y="607.5" width="32.5" height="30.0" fill="#fff" stroke="#6b6a69" stroke-width="1.2" />
<line x1="1402.0" y1="607.5" x2="1434.5" y2="637.5" stroke="#6b6a69" stroke-width="1.2" />
<line x1="1434.5" y1="607.5" x2="1402.0" y2="637.5" stroke="#6b6a69" stroke-width="1.2" />
<rect x="1090.0" y="723.0" width="73.8" height="31.3" fill="#dededd" stroke="#6b6a69" stroke-width="1.2" />
<path d="M1091,745 Q1093,753 1100,754" fill="none" stroke="#4a4847" stroke-width="1" />
<rect x="1357.5" y="612.5" width="2.7" height="45.7" fill="#72706f" stroke="none" stroke-width="1" />
<rect x="371.6" y="689.6" width="52.9" height="46.4" fill="#dededd" stroke="#4a4847" stroke-width="1.6" />
<rect x="447.2" y="688.3" width="100.3" height="193.5" fill="#dededd" stroke="#2b2724" stroke-width="1.6" />
<rect x="454.9" y="692.2" width="83.6" height="41.0" rx="5" ry="5" fill="#dededd" stroke="#1f1a17" stroke-width="1.7"/>
<path d="M469.9,733 Q492,707 538.5,702" fill="none" stroke="#1f1a17" stroke-width="1.7" />
<polygon points="482.6,737.5 542.5,737.5 542.5,876.7 452.0,876.7 452.0,786.9" fill="#dededd" stroke="#1f1a17" stroke-width="1.8" />
<polyline points="482.6,737.5 482.6,786.9 452.0,786.9" fill="none" stroke="#1f1a17" stroke-width="1.8" />
<line x1="482.6" y1="760.1" x2="542.5" y2="760.1" stroke="#1f1a17" stroke-width="1.8" />
<path d="M613.7,697 A30.5,30.5 0 0 0 593,754.3 L596.4,747.8 A24,24 0 0 1 612.4,703.1 Z" fill="#dededd" stroke="#1f1a17" stroke-width="1.6" />
<circle cx="607.4" cy="726.5" r="24.0" fill="#dededd" stroke="#1f1a17" stroke-width="1.6" />
<rect x="625.0" y="688.3" width="99.3" height="99.2" fill="#dededd" stroke="#4a4847" stroke-width="1.8" />
<path d="M741.5,702.3 A51.5,51.5 0 0 1 820.1,769.3 L811,761.7 A40.1,40.1 0 0 0 750.5,710.2 Z" fill="#dededd" stroke="#1f1a17" stroke-width="1.6" />
<circle cx="777.3" cy="740.0" r="40.1" fill="#dededd" stroke="#1f1a17" stroke-width="1.6" />
<rect x="785.5" y="920.8" width="86.5" height="171.0" fill="#dededd" stroke="#4a4847" stroke-width="1.4" />
<rect x="823.6" y="932.0" width="6.0" height="156.8" fill="#dededd" stroke="#6b6a69" stroke-width="0.8" />
<rect x="791.0" y="942.5" width="68.0" height="5" fill="#dededd" stroke="#6b6a69" stroke-width="0.8" transform="rotate(-1.3 825.0 945.0)"/>
<rect x="795.0" y="969.3" width="68.0" height="5" fill="#dededd" stroke="#6b6a69" stroke-width="0.8" transform="rotate(-1.3 829.0 971.8)"/>
<rect x="799.0" y="1000.0" width="68.0" height="5" fill="#dededd" stroke="#6b6a69" stroke-width="0.8" transform="rotate(-1.3 833.0 1002.5)"/>
<rect x="791.0" y="1026.8" width="68.0" height="5" fill="#dededd" stroke="#6b6a69" stroke-width="0.8" transform="rotate(-1.3 825.0 1029.3)"/>
<rect x="795.0" y="1047.5" width="68.0" height="5" fill="#dededd" stroke="#6b6a69" stroke-width="0.8" transform="rotate(-1.3 829.0 1050.0)"/>
<rect x="799.0" y="1070.0" width="68.0" height="5" fill="#dededd" stroke="#6b6a69" stroke-width="0.8" transform="rotate(-1.3 833.0 1072.5)"/>
<rect x="393.8" y="1050.0" width="314.5" height="42.5" fill="#dededd" stroke="#4a4847" stroke-width="1.3" />
<line x1="469.3" y1="1050.0" x2="469.3" y2="1092.5" stroke="#4a4847" stroke-width="1.3" />
<line x1="542.5" y1="1050.0" x2="542.5" y2="1092.5" stroke="#4a4847" stroke-width="1.3" />
<rect x="576.3" y="1078.0" width="98.7" height="12.5" rx="3" ry="3" fill="#dededd" stroke="#1f1a17" stroke-width="1.3"/>
<rect x="368.3" y="1002.0" width="11.0" height="76.0" fill="#fff" stroke="#6b6a69" stroke-width="1.2" />
<rect x="343.0" y="1120.0" width="302.5" height="41.8" fill="#dededd" stroke="#1f1a17" stroke-width="1.6" />
<line x1="403.6" y1="1204.1" x2="430.4" y2="1204.1" stroke="#4a4847" stroke-width="2.2" stroke-linecap="round"/>
<line x1="403.6" y1="1238.1" x2="430.4" y2="1238.1" stroke="#4a4847" stroke-width="2.2" stroke-linecap="round"/>
<path d="M421.5,1199 L431,1203.5 L431,1238.5 L421.5,1243 Z" fill="#1f1a17" stroke="#1f1a17" stroke-width="1" />
<polygon points="423.3,1202.2 428.7,1204.0 428.7,1207.6 423.3,1206.5" fill="#f4f4f3" stroke="none" stroke-width="0" />
<polygon points="423.3,1207.8 428.7,1209.0 428.7,1212.6 423.3,1212.0" fill="#f4f4f3" stroke="none" stroke-width="0" />
<polygon points="423.3,1213.2 428.7,1214.0 428.7,1217.6 423.3,1217.5" fill="#f4f4f3" stroke="none" stroke-width="0" />
<polygon points="423.3,1218.8 428.7,1219.0 428.7,1222.6 423.3,1223.0" fill="#f4f4f3" stroke="none" stroke-width="0" />
<polygon points="423.3,1224.2 428.7,1224.0 428.7,1227.6 423.3,1228.5" fill="#f4f4f3" stroke="none" stroke-width="0" />
<polygon points="423.3,1229.8 428.7,1229.0 428.7,1232.6 423.3,1234.0" fill="#f4f4f3" stroke="none" stroke-width="0" />
<polygon points="423.3,1235.2 428.7,1234.0 428.7,1237.6 423.3,1239.5" fill="#f4f4f3" stroke="none" stroke-width="0" />
<path d="M459.8,1196.3 C450,1194 440,1196 434,1202 C429,1208 428.4,1215 428.4,1221.5 C428.4,1228 429,1236 434,1241.5 C440,1246.5 450,1248.7 459.8,1247.3 Z" fill="#dededd" stroke="#1f1a17" stroke-width="1.6" />
<path d="M416.5,1185.6 C421,1186 423.5,1192 424,1200 C421.5,1212 421.5,1230 424,1242 C423.5,1250 421,1256 416.5,1256.3 C412.5,1256 411,1250 410.3,1242 C409.3,1228 409.3,1214 410.3,1200 C411,1192 412.5,1186 416.5,1185.6 Z" fill="#dededd" stroke="#1f1a17" stroke-width="1.6" />
<line x1="445.5" y1="1220.9" x2="459.8" y2="1220.9" stroke="#1f1a17" stroke-width="1.6" />
<rect x="459.8" y="1128.3" width="81.3" height="159.5" fill="#dededd" stroke="#1f1a17" stroke-width="1.7" />
<rect x="348.8" y="1338.0" width="12.5" height="98.3" rx="3" ry="3" fill="#dededd" stroke="#1f1a17" stroke-width="1.3"/>
<rect x="381.3" y="1497.5" width="78.7" height="20.0" fill="#fff" stroke="#6b6a69" stroke-width="1.2" />
<rect x="667.6" y="1283.0" width="125.4" height="207.0" rx="8" ry="8" fill="#dededd" stroke="#3b3733" stroke-width="1.5"/>
<path d="M783,1275 L684,1275 Q675.3,1275 675.3,1284 L675.3,1302 Q675.3,1313 686,1313 L792.8,1313 L792.8,1285 Q792.8,1275 783,1275 Z" fill="#dededd" stroke="#3b3733" stroke-width="1.5" />
<path d="M783,1497 L684,1497 Q675.3,1497 675.3,1488 L675.3,1469.5 Q675.3,1458.4 686,1458.4 L792.8,1458.4 L792.8,1487 Q792.8,1497 783,1497 Z" fill="#dededd" stroke="#3b3733" stroke-width="1.5" />
<path d="M776.6,1280.5 L788,1280.5 Q792.6,1282 792.6,1288 L792.6,1483 Q792.6,1489 788,1490.5 L776.6,1490.5 Z" fill="#dededd" stroke="#3b3733" stroke-width="1.5" />
<path d="M667.6,1313 L743.2,1313 L743.2,1381 Q743.2,1385.7 738,1385.7 L672,1385.7 Q667.6,1385.7 667.6,1381 Z" fill="#dededd" stroke="#3b3733" stroke-width="1.5" />
<path d="M667.6,1458.4 L743.2,1458.4 L743.2,1392 Q743.2,1387.4 738,1387.4 L672,1387.4 Q667.6,1387.4 667.6,1392 Z" fill="#dededd" stroke="#3b3733" stroke-width="1.5" />
<rect x="743.2" y="1295.0" width="37.7" height="90.7" rx="7" ry="7" fill="#dededd" stroke="#3b3733" stroke-width="1.5"/>
<rect x="743.2" y="1387.4" width="37.7" height="91.6" rx="7" ry="7" fill="#dededd" stroke="#3b3733" stroke-width="1.5"/>
<rect x="886.3" y="1296.2" width="14.3" height="227.6" fill="#dededd" stroke="#6b6a69" stroke-width="1" />
<rect x="845.8" y="1301.8" width="6.0" height="212.7" fill="#dededd" stroke="#6b6a69" stroke-width="0.8" />
<rect x="818.3" y="1315.8" width="61" height="7" fill="#dededd" stroke="#6b6a69" stroke-width="0.8" transform="rotate(-3 849.0 1319.3)"/>
<rect x="821.3" y="1351.5" width="61" height="7" fill="#dededd" stroke="#6b6a69" stroke-width="0.8" transform="rotate(-3 852.0 1355.0)"/>
<rect x="824.3" y="1394.0" width="61" height="7" fill="#dededd" stroke="#6b6a69" stroke-width="0.8" transform="rotate(-3 855.0 1397.5)"/>
<rect x="818.3" y="1429.8" width="61" height="7" fill="#dededd" stroke="#6b6a69" stroke-width="0.8" transform="rotate(-3 849.0 1433.3)"/>
<rect x="821.3" y="1457.8" width="61" height="7" fill="#dededd" stroke="#6b6a69" stroke-width="0.8" transform="rotate(-3 852.0 1461.3)"/>
<rect x="824.3" y="1488.3" width="61" height="7" fill="#dededd" stroke="#6b6a69" stroke-width="0.8" transform="rotate(-3 855.0 1491.8)"/>
<rect x="1072.5" y="1292.5" width="55.8" height="107.5" fill="#dededd" stroke="#1f1a17" stroke-width="1.3" />
<path d="M1105,1431.3 A30,30 0 0 1 1085,1484.5 L1086.5,1478.5 A25.5,25.5 0 0 0 1102.5,1437 Z" fill="#dededd" stroke="#1f1a17" stroke-width="1.4" />
<circle cx="1091.3" cy="1458.8" r="24.3" fill="#dededd" stroke="#1f1a17" stroke-width="1.3" />
<rect x="1190.0" y="723.0" width="167.5" height="30.8" fill="#c5c5c5" stroke="#6b6a69" stroke-width="1.2" />
<rect x="1325.5" y="705.0" width="30.8" height="29.3" fill="#fff" stroke="#6b6a69" stroke-width="1.2" />
<line x1="1325.5" y1="705.0" x2="1356.3" y2="734.3" stroke="#6b6a69" stroke-width="1.2" />
<line x1="1356.3" y1="705.0" x2="1325.5" y2="734.3" stroke="#6b6a69" stroke-width="1.2" />
<rect x="1231.3" y="755.0" width="46.8" height="6.0" rx="2.5" ry="2.5" fill="#fff" stroke="#1f1a17" stroke-width="1.6"/>
<path d="M1231.2,767 Q1231.2,761 1237.7,761 L1271.7,761 Q1278.2,761 1278.2,767 L1278.2,801 A23.5,29.5 0 0 1 1231.2,801 Z" fill="#fff" stroke="#1f1a17" stroke-width="1.6" />
<path d="M1234.7,779 Q1234.7,764 1246.7,764 L1262.7,764 Q1274.7,764 1274.7,779 L1274.7,800.5 A20,26.5 0 0 1 1234.7,800.5 Z" fill="#fff" stroke="#1f1a17" stroke-width="1.6" />
<path d="M1358.5,837.8 L1318,837.8 Q1301.3,837.8 1301.3,856 L1301.3,911 Q1301.3,929.5 1318,929.5 L1358.5,929.5 Z" fill="#fff" stroke="#1f1a17" stroke-width="1.6" />
<ellipse cx="1326.2" cy="884.2" rx="20.3" ry="32.6" fill="#fff" stroke="#1f1a17" stroke-width="1.6"/>
<rect x="1612.0" y="737.5" width="33.8" height="104.3" fill="#fff" stroke="#6b6a69" stroke-width="1.2" />
<line x1="1612.3" y1="637.0" x2="1612.3" y2="737.5" stroke="#6b6a69" stroke-width="1.2" />
<rect x="1384.5" y="636.8" width="227.5" height="100.5" fill="#fff" stroke="#1f1a17" stroke-width="1.7" />
<path d="M1446,656 C1462,662 1480,661.5 1495.5,660.7 C1512,659.5 1524,656 1537.7,655.3 C1555,653.5 1575,653.8 1589.5,654.7 C1592,675 1591,700 1587,719.8 C1565,720.5 1548,720 1531.6,718 C1512,716 1498,714 1483.4,714.3 C1470,714 1458,715 1448.5,716 L1449.7,717.3 C1470,718 1490,721.5 1507.5,723.4 C1535,725.5 1570,725 1601.5,724.6 C1605,700 1605,675 1602.7,652.3" fill="none" stroke="#1f1a17" stroke-width="2" />
<path d="M1448.5,716 L1450,718" fill="none" stroke="#1f1a17" stroke-width="2" />
<path d="M1463,667 C1500,664.5 1520,665 1545,661 C1560,659 1575,660 1588,661.5 M1463,667 Q1458.5,668 1458.7,688 Q1458.5,706 1462,707 C1500,706.5 1520,709 1545,712 C1560,714 1575,713.5 1587,713" fill="none" stroke="#1f1a17" stroke-width="0.8" />
<path d="M1510,671.5 C1535,671.5 1555,673 1565,672 C1575,670 1582,666 1588,664.5 M1509,703.5 C1535,701 1560,701 1572,705 C1580,709 1580,710 1587,710 M1574,672 L1574,703" fill="none" stroke="#1f1a17" stroke-width="0.8" />
<circle cx="1562.3" cy="687.8" r="6.6" fill="none" stroke="#1f1a17" stroke-width="0.9" />
<path d="M1394.5,672 C1410,670 1425,671 1429,676 C1433,684 1432,695 1430,699 C1425,703 1410,704 1394.5,704" fill="none" stroke="#1f1a17" stroke-width="0.9" />
<path d="M1396,674.5 C1408,673 1420,674 1423,678 C1425,685 1425,693 1423,697 C1418,700 1408,701 1396,701.5" fill="none" stroke="#1f1a17" stroke-width="0.9" />
<path d="M1394.5,670 L1393.5,704" fill="none" stroke="#1f1a17" stroke-width="1.6" />
<path d="M1437,652 C1435,675 1436,700 1438.5,722.8 C1460,727 1490,732 1513.6,730.6 C1500,734 1480,735 1460,733.5 C1440,732 1410,731 1398,722 C1394,715 1394,690 1395,670" fill="none" stroke="#1f1a17" stroke-width="0.8" />
<rect x="1384.5" y="777.2" width="58.0" height="139.8" fill="#fff" stroke="#1f1a17" stroke-width="1.6" />
<ellipse cx="1410.8" cy="847.5" rx="20.6" ry="33" fill="#fff" stroke="#1f1a17" stroke-width="1.6"/>
<rect x="1606.3" y="780.5" width="5.2" height="45.3" fill="#fff" stroke="#1f1a17" stroke-width="1.5" />
<path d="M1606,779.5 L1562,779.5 A24.5,23.5 0 0 0 1562,826.5 L1606,826.5 Z" fill="#fff" stroke="#1f1a17" stroke-width="1.6" />
<path d="M1597,784 Q1603,784 1603,790 L1603,816 Q1603,822 1597,822 L1562,822 A20,19 0 0 1 1562,784 Z" fill="#fff" stroke="#1f1a17" stroke-width="1.6" />
<path d="M1643.8,858.3 L1616,858.3 Q1600,858.3 1600,876 L1600,911 Q1600,928.8 1616,928.8 L1643.8,928.8 Z" fill="#fff" stroke="#1f1a17" stroke-width="1.6" />
<rect x="1392.5" y="930.0" width="67.0" height="10.5" fill="#b3b3b3" stroke="#1e9ad6" stroke-width="1.3" />
<polygon points="1579.5,137.5 1645.0,137.5 1645.0,299.5 1628.0,299.5 1628.0,484.0 1579.5,484.0" fill="#dededd" stroke="#6b6a69" stroke-width="1.1" />
<rect x="1597.0" y="229.5" width="40.5" height="58.5" fill="#dededd" stroke="#727170" stroke-width="4" />
<rect x="1628.0" y="299.5" width="4.0" height="191.5" fill="#727170" stroke="none" stroke-width="1" />
<rect x="1628.0" y="299.5" width="17.0" height="5.0" fill="#727170" stroke="none" stroke-width="1" />
<rect x="1632.0" y="304.5" width="46.0" height="186.0" fill="#fff" stroke="#6b6a69" stroke-width="1.1" />
<line x1="1632.0" y1="304.5" x2="1678.0" y2="490.5" stroke="#6b6a69" stroke-width="1.1" />
<line x1="1678.0" y1="304.5" x2="1632.0" y2="490.5" stroke="#6b6a69" stroke-width="1.1" />
<line x1="1507.0" y1="452.5" x2="1577.5" y2="497.0" stroke="#727170" stroke-width="3.5" />
<rect x="1388.8" y="524.5" width="80.5" height="76.8" fill="#dededd" stroke="#6b6a69" stroke-width="1.1" />
<circle cx="1428.8" cy="562.5" r="20.8" fill="none" stroke="#4a4948" stroke-width="2.2" />
<rect x="1615.0" y="526.3" width="9.3" height="50.5" fill="#fff" stroke="#4a4948" stroke-width="1.6" />
<path d="M1586.2,983.5 A32.5,32.5 0 0 0 1562,1043.2 L1565.5,1035.1 A24,24 0 0 1 1586.2,992.3 Z" fill="#dededd" stroke="#1f1a17" stroke-width="1.6" />
<circle cx="1578.7" cy="1015.1" r="24.0" fill="#dededd" stroke="#1f1a17" stroke-width="1.6" />
<rect x="1586.2" y="975.7" width="46.8" height="80.1" fill="#dededd" stroke="#1f1a17" stroke-width="1.6" />
<rect x="1446.3" y="1092.0" width="186.7" height="99.8" fill="#dededd" stroke="#1f1a17" stroke-width="1.55" />
<polygon points="1450.8,1096.8 1540.8,1096.8 1591.3,1127.0 1591.3,1187.0 1450.8,1187.0" fill="#dededd" stroke="#1f1a17" stroke-width="1.6" />
<polyline points="1540.8,1096.8 1540.8,1127.0 1591.3,1127.0" fill="none" stroke="#1f1a17" stroke-width="1.6" />
<line x1="1567.5" y1="1127.0" x2="1567.5" y2="1187.0" stroke="#1f1a17" stroke-width="1.55" />
<path d="M1633,1099.5 L1599,1099.5 Q1593.8,1099.5 1593.8,1104 L1593.8,1179 Q1593.8,1183.8 1599,1183.8 L1633,1183.8" fill="#dededd" stroke="#1f1a17" stroke-width="1.55" />
<path d="M1594.5,1115 Q1620,1138 1625.7,1183.5" fill="none" stroke="#1f1a17" stroke-width="1.8" />
<rect x="1362.5" y="1193.0" width="270.5" height="222.0" fill="#dededd" stroke="#1f1a17" stroke-width="1.55" />
<polygon points="1369.3,1199.3 1498.0,1199.3 1570.0,1269.3 1570.0,1408.8 1369.3,1408.8" fill="#dededd" stroke="#1f1a17" stroke-width="1.6" />
<polyline points="1498.0,1199.3 1498.0,1269.3 1570.0,1269.3" fill="none" stroke="#1f1a17" stroke-width="1.6" />
<line x1="1536.8" y1="1269.3" x2="1536.8" y2="1408.8" stroke="#1f1a17" stroke-width="1.55" />
<path d="M1633,1210.5 L1581,1210.5 Q1575,1210.5 1575,1216 L1575,1282 Q1575,1287.5 1581,1287.5 L1633,1287.5" fill="#dededd" stroke="#1f1a17" stroke-width="1.55" />
<path d="M1633,1320 L1581,1320 Q1575,1320 1575,1325.5 L1575,1392 Q1575,1397.5 1581,1397.5 L1633,1397.5" fill="#dededd" stroke="#1f1a17" stroke-width="1.55" />
<path d="M1575.5,1223.8 Q1612,1243 1620,1287.5" fill="none" stroke="#1f1a17" stroke-width="1.55" />
<path d="M1620,1320 Q1615,1360 1575.5,1383.8" fill="none" stroke="#1f1a17" stroke-width="1.55" />
<rect x="1583.3" y="1420.8" width="49.7" height="53.2" fill="#dededd" stroke="#1f1a17" stroke-width="1.55" />
<rect x="1538.0" y="1497.5" width="78.5" height="20.0" fill="#fff" stroke="#6b6a69" stroke-width="1.2" />
<rect x="1239.5" y="1160.5" width="5.5" height="80.3" fill="#fffbc8" stroke="#1f1a17" stroke-width="1.2" />
<rect x="1244.5" y="1240.8" width="5.8" height="80.0" fill="#fffbc8" stroke="#1f1a17" stroke-width="1.2" />
<rect x="1244.5" y="1320.8" width="5.8" height="79.7" fill="#fffbc8" stroke="#1f1a17" stroke-width="1.2" />
<rect x="1239.5" y="1400.5" width="6.3" height="80.8" fill="#fffbc8" stroke="#1f1a17" stroke-width="1.2" />
<polygon points="1156.3,1160.5 1239.5,1160.5 1239.5,1240.8 1244.5,1240.8 1244.5,1400.5 1239.5,1400.5 1239.5,1481.3 1156.3,1481.3" fill="#dededd" stroke="#1f1a17" stroke-width="1.6" />
<rect x="1194.3" y="1174.5" width="6.2" height="150.5" fill="#dededd" stroke="#6b6a69" stroke-width="0.8" />
<rect x="1194.3" y="1325.0" width="6.2" height="150.0" fill="#dededd" stroke="#6b6a69" stroke-width="0.8" />
<rect x="1162.5" y="1184.1" width="67" height="5.4" fill="#dededd" stroke="#6b6a69" stroke-width="0.8" transform="rotate(-1.3 1195.5 1186.8)"/>
<rect x="1165.0" y="1210.3" width="67" height="5.4" fill="#dededd" stroke="#6b6a69" stroke-width="0.8" transform="rotate(-1.3 1198.0 1213.0)"/>
<rect x="1167.5" y="1239.8" width="67" height="5.4" fill="#dededd" stroke="#6b6a69" stroke-width="0.8" transform="rotate(-1.3 1200.5 1242.5)"/>
<rect x="1162.5" y="1264.8" width="67" height="5.4" fill="#dededd" stroke="#6b6a69" stroke-width="0.8" transform="rotate(-1.3 1195.5 1267.5)"/>
<rect x="1165.0" y="1284.8" width="67" height="5.4" fill="#dededd" stroke="#6b6a69" stroke-width="0.8" transform="rotate(-1.3 1198.0 1287.5)"/>
<rect x="1167.5" y="1306.1" width="67" height="5.4" fill="#dededd" stroke="#6b6a69" stroke-width="0.8" transform="rotate(-1.3 1200.5 1308.8)"/>
<rect x="1162.5" y="1334.8" width="67" height="5.4" fill="#dededd" stroke="#6b6a69" stroke-width="0.8" transform="rotate(-1.3 1195.5 1337.5)"/>
<rect x="1165.0" y="1360.3" width="67" height="5.4" fill="#dededd" stroke="#6b6a69" stroke-width="0.8" transform="rotate(-1.3 1198.0 1363.0)"/>
<rect x="1167.5" y="1390.6" width="67" height="5.4" fill="#dededd" stroke="#6b6a69" stroke-width="0.8" transform="rotate(-1.3 1200.5 1393.3)"/>
<rect x="1162.5" y="1415.6" width="67" height="5.4" fill="#dededd" stroke="#6b6a69" stroke-width="0.8" transform="rotate(-1.3 1195.5 1418.3)"/>
<rect x="1165.0" y="1435.3" width="67" height="5.4" fill="#dededd" stroke="#6b6a69" stroke-width="0.8" transform="rotate(-1.3 1198.0 1438.0)"/>
<rect x="1167.5" y="1457.3" width="67" height="5.4" fill="#dededd" stroke="#6b6a69" stroke-width="0.8" transform="rotate(-1.3 1200.5 1460.0)"/>
<rect x="355.0" y="140.0" width="13.1" height="516.8" fill="#fff200" stroke="#0a96de" stroke-width="2" />
<rect x="355.0" y="680.5" width="13.1" height="411.3" fill="#fff200" stroke="#0a96de" stroke-width="2" />
<rect x="350.7" y="1501.5" width="442.1" height="13.3" fill="#fff200" stroke="#0a96de" stroke-width="2" />
<rect x="1333.2" y="365.7" width="13.6" height="299.6" fill="#fff200" stroke="#0a96de" stroke-width="2" />
<rect x="1629.5" y="500.4" width="13.1" height="109.2" fill="#fff200" stroke="#0a96de" stroke-width="2" />
<rect x="1385.7" y="638.2" width="254.1" height="13.1" fill="#fff200" stroke="#0a96de" stroke-width="2" />
<rect x="1633.4" y="968.2" width="12.6" height="520.1" fill="#fff200" stroke="#0a96de" stroke-width="2" />
<circle cx="658.5" cy="425.8" r="30.0" fill="#fff200" stroke="#e5352b" stroke-width="1" />
<line x1="621.5" y1="425.8" x2="695.5" y2="425.8" stroke="#e5352b" stroke-width="1.15" stroke-opacity="0.7"/>
<line x1="658.5" y1="388.8" x2="658.5" y2="462.8" stroke="#e5352b" stroke-width="1.15" stroke-opacity="0.7"/>
<circle cx="606.5" cy="894.5" r="19.0" fill="#fff200" stroke="#e5352b" stroke-width="1" />
<line x1="583.5" y1="894.5" x2="629.5" y2="894.5" stroke="#e5352b" stroke-width="1.15" stroke-opacity="0.7"/>
<line x1="606.5" y1="871.5" x2="606.5" y2="917.5" stroke="#e5352b" stroke-width="1.15" stroke-opacity="0.7"/>
<circle cx="560.0" cy="1321.8" r="18.8" fill="#fff200" stroke="#e5352b" stroke-width="1" />
<line x1="537.0" y1="1321.8" x2="583.0" y2="1321.8" stroke="#e5352b" stroke-width="1.15" stroke-opacity="0.7"/>
<line x1="560.0" y1="1298.8" x2="560.0" y2="1344.8" stroke="#e5352b" stroke-width="1.15" stroke-opacity="0.7"/>
<circle cx="1590.0" cy="1162.5" r="15.0" fill="#fff200" stroke="#e5352b" stroke-width="1" />
<line x1="1571.5" y1="1162.5" x2="1608.5" y2="1162.5" stroke="#e5352b" stroke-width="1.15" stroke-opacity="0.7"/>
<line x1="1590.0" y1="1144.0" x2="1590.0" y2="1181.0" stroke="#e5352b" stroke-width="1.15" stroke-opacity="0.7"/>
<circle cx="1586.8" cy="1438.0" r="15.0" fill="#fff200" stroke="#e5352b" stroke-width="1" />
<line x1="1568.3" y1="1438.0" x2="1605.3" y2="1438.0" stroke="#e5352b" stroke-width="1.15" stroke-opacity="0.7"/>
<line x1="1586.8" y1="1419.5" x2="1586.8" y2="1456.5" stroke="#e5352b" stroke-width="1.15" stroke-opacity="0.7"/>
<circle cx="935.8" cy="270.5" r="14.3" fill="#fff200" stroke="#e5352b" stroke-width="1" />
<line x1="918.3" y1="270.5" x2="953.3" y2="270.5" stroke="#e5352b" stroke-width="1.15" stroke-opacity="0.7"/>
<line x1="935.8" y1="253.0" x2="935.8" y2="288.0" stroke="#e5352b" stroke-width="1.15" stroke-opacity="0.7"/>
<circle cx="977.5" cy="303.8" r="14.3" fill="#fff200" stroke="#e5352b" stroke-width="1" />
<line x1="960.0" y1="303.8" x2="995.0" y2="303.8" stroke="#e5352b" stroke-width="1.15" stroke-opacity="0.7"/>
<line x1="977.5" y1="286.3" x2="977.5" y2="321.3" stroke="#e5352b" stroke-width="1.15" stroke-opacity="0.7"/>
<circle cx="930.8" cy="320.0" r="14.3" fill="#fff200" stroke="#e5352b" stroke-width="1" />
<line x1="913.3" y1="320.0" x2="948.3" y2="320.0" stroke="#e5352b" stroke-width="1.15" stroke-opacity="0.7"/>
<line x1="930.8" y1="302.5" x2="930.8" y2="337.5" stroke="#e5352b" stroke-width="1.15" stroke-opacity="0.7"/>
<path d="M1159,59.3 A19,19 0 0 1 1197,59.3 Z" fill="#fff9ae" stroke="#da251d" stroke-width="1.6" />
<path d="M482.5,687 A19,19 0 0 0 520.5,687 Z" fill="#fff9ae" stroke="#da251d" stroke-width="1.6" />
<path d="M661.3,687.5 A19,19 0 0 0 699.3,687.5 Z" fill="#fff9ae" stroke="#da251d" stroke-width="1.6" />
<path d="M906.3,999.5 A18.8,18.8 0 0 1 906.3,1037.1 Z" fill="#fff9ae" stroke="#da251d" stroke-width="1.6" />
<path d="M1126.4,1164.2 A18.8,18.8 0 0 0 1126.4,1201.8 Z" fill="#fff9ae" stroke="#da251d" stroke-width="1.6" />
<path d="M796.3,1367.5 A18.8,18.8 0 0 0 796.3,1405.1 Z" fill="#fff9ae" stroke="#da251d" stroke-width="1.6" />
<circle cx="1243.8" cy="343.8" r="8.2" fill="#fff200" stroke="#55524f" stroke-width="0.8" />
<circle cx="1243.8" cy="425.8" r="8.2" fill="#fff200" stroke="#55524f" stroke-width="0.8" />
<circle cx="1243.8" cy="501.3" r="8.2" fill="#fff200" stroke="#55524f" stroke-width="0.8" />
<circle cx="1243.8" cy="577.5" r="8.2" fill="#fff200" stroke="#55524f" stroke-width="0.8" />
<circle cx="1168.0" cy="577.5" r="8.2" fill="#fff200" stroke="#55524f" stroke-width="0.8" />
<circle cx="1085.8" cy="577.5" r="8.2" fill="#fff200" stroke="#55524f" stroke-width="0.8" />
<circle cx="1528.5" cy="197.0" r="8.2" fill="#fff200" stroke="#55524f" stroke-width="0.8" />
<circle cx="1528.5" cy="295.8" r="8.2" fill="#fff200" stroke="#55524f" stroke-width="0.8" />
<circle cx="1529.3" cy="385.0" r="8.2" fill="#fff200" stroke="#55524f" stroke-width="0.8" />
<circle cx="1443.3" cy="465.5" r="10.0" fill="#fff200" stroke="#55524f" stroke-width="0.8" />
<circle cx="1530.0" cy="467.5" r="10.0" fill="#fff200" stroke="#55524f" stroke-width="0.8" />
<circle cx="1018.8" cy="807.5" r="10.0" fill="#fff200" stroke="#55524f" stroke-width="0.8" />
<circle cx="1018.8" cy="909.5" r="10.0" fill="#fff200" stroke="#55524f" stroke-width="0.8" />
<circle cx="1016.3" cy="1263.0" r="10.0" fill="#fff200" stroke="#55524f" stroke-width="0.8" />
<circle cx="1016.3" cy="1365.0" r="10.0" fill="#fff200" stroke="#55524f" stroke-width="0.8" />
<circle cx="1016.3" cy="1459.3" r="10.0" fill="#fff200" stroke="#55524f" stroke-width="0.8" />
<circle cx="1256.3" cy="802.5" r="10.0" fill="#fff200" stroke="#55524f" stroke-width="0.8" />
<circle cx="1256.3" cy="897.5" r="10.0" fill="#fff200" stroke="#55524f" stroke-width="0.8" />
<circle cx="1473.3" cy="785.8" r="10.0" fill="#fff200" stroke="#55524f" stroke-width="0.8" />
<circle cx="1560.0" cy="787.5" r="10.0" fill="#fff200" stroke="#55524f" stroke-width="0.8" />
<circle cx="1473.3" cy="880.0" r="10.0" fill="#fff200" stroke="#55524f" stroke-width="0.8" />
<circle cx="1560.0" cy="881.8" r="10.0" fill="#fff200" stroke="#55524f" stroke-width="0.8" />
<circle cx="1307.5" cy="1030.8" r="10.0" fill="#fff200" stroke="#55524f" stroke-width="0.8" />
<circle cx="1307.5" cy="1161.3" r="10.0" fill="#fff200" stroke="#55524f" stroke-width="0.8" />
<circle cx="1308.3" cy="1291.8" r="10.0" fill="#fff200" stroke="#55524f" stroke-width="0.8" />
<circle cx="1309.5" cy="1420.0" r="10.0" fill="#fff200" stroke="#55524f" stroke-width="0.8" />
<polyline points="360.0,355.0 904.5,635.5 904.5,662.5" fill="none" stroke="#e77817" stroke-width="1.85" />
<polyline points="658.5,425.8 915.0,625.8 913.0,662.5" fill="none" stroke="#00923f" stroke-width="1.85" />
<line x1="915.0" y1="625.8" x2="921.3" y2="662.5" stroke="#00923f" stroke-width="1.85" />
<line x1="1167.0" y1="53.8" x2="1006.3" y2="138.8" stroke="#00923f" stroke-width="1.85" />
<line x1="978.8" y1="158.0" x2="945.0" y2="296.3" stroke="#1a86d0" stroke-width="1.85" />
<polyline points="1243.8,343.8 1243.8,577.5 1085.8,577.5 928.8,662.5" fill="none" stroke="#6657a6" stroke-width="1.85" />
<polyline points="1402.5,292.0 1530.0,206.3 1530.0,377.5" fill="none" stroke="#1a86d0" stroke-width="1.85" />
<polyline points="1527.5,468.3 1445.3,467.0 1465.0,506.3" fill="none" stroke="#da251d" stroke-width="1.85" />
<line x1="1483.3" y1="520.8" x2="1635.8" y2="538.3" stroke="#1a86d0" stroke-width="1.85" />
<polyline points="400.0,695.0 682.5,696.3 862.0,754.0" fill="none" stroke="#1f1a7b" stroke-width="1.85" />
<polyline points="389.3,695.8 358.8,742.0 863.0,763.2" fill="none" stroke="#da251d" stroke-width="1.85" />
<polyline points="606.5,894.0 862.7,772.0" fill="none" stroke="#00923f" stroke-width="1.85" />
<polyline points="834.7,785.3 867.5,780.7" fill="none" stroke="#00923f" stroke-width="1.85" />
<path d="M560,1320 C620,1262 700,1224 760,1224.5 C800,1224 828,1236 829.3,1256" fill="none" stroke="#e5097f" stroke-width="1.85" />
<path d="M620,1501 C622,1400 690,1310 740,1265 C765,1243 800,1236 810,1245 C816,1249 820,1253 821,1256" fill="none" stroke="#00923f" stroke-width="1.85" />
<path d="M785,1383 C765,1360 760,1320 766,1295 C772,1268 790,1250 809,1256" fill="none" stroke="#1f1a7b" stroke-width="1.85" />
<polyline points="1087.0,745.5 1087.0,764.3 1020.0,807.5 1020.0,909.5 1086.8,1512.0" fill="none" stroke="#00923f" stroke-width="1.85" />
<polyline points="1095.0,745.5 1095.0,768.3 915.0,1011.3 1111.7,1183.0 1096.8,1512.0" fill="none" stroke="#1a86d0" stroke-width="1.85" />
<polyline points="1078.3,745.5 1016.3,1264.0 1016.0,1459.0 1076.8,1511.3" fill="none" stroke="#9c3f8e" stroke-width="1.85" />
<line x1="1172.5" y1="796.3" x2="1334.3" y2="721.8" stroke="#00923f" stroke-width="1.85" />
<polyline points="1175.0,806.3 1253.3,806.3 1255.5,897.5" fill="none" stroke="#9c3f8e" stroke-width="1.85" />
<polyline points="1431.8,962.0 1470.0,878.8 1472.5,785.8 1559.3,785.8 1562.5,881.3" fill="none" stroke="#00923f" stroke-width="1.85" />
<polyline points="1397.5,648.8 1390.5,900.0" fill="none" stroke="#1f1a7b" stroke-width="1.85" />
<polyline points="1416.3,627.5 1424.3,960.0" fill="none" stroke="#9c3f8e" stroke-width="1.85" />
<line x1="1175.0" y1="1112.0" x2="1305.0" y2="1110.5" stroke="#9c3f8e" stroke-width="1.85" />
<line x1="1307.5" y1="1030.8" x2="1309.5" y2="1420.0" stroke="#9c3f8e" stroke-width="1.85" />
<polyline points="1175.0,1118.8 1425.0,1118.8 1645.0,1045.8" fill="none" stroke="#e77817" stroke-width="1.85" />
<line x1="1575.4" y1="1070.3" x2="1638.8" y2="1162.5" stroke="#e77817" stroke-width="1.85" />
<polyline points="1175.0,1127.0 1427.5,1127.0 1636.3,1173.8" fill="none" stroke="#1a86d0" stroke-width="1.85" />
<polyline points="1175.0,1140.0 1588.8,1441.8 1636.3,1438.0" fill="none" stroke="#da251d" stroke-width="1.85" />
<rect x="972.5" y="135.8" width="21.8" height="22.2" fill="#da251d" stroke="#1f1a17" stroke-width="1.3" />
<circle cx="983.3" cy="147.0" r="6.0" fill="#da251d" stroke="#1f1a17" stroke-width="1.3" />
<rect x="997.5" y="135.8" width="8.0" height="22.2" fill="#da251d" stroke="#1f1a17" stroke-width="1.1" />
<rect x="900.8" y="662.5" width="7.9" height="22.5" fill="#da251d" stroke="#2a1f1a" stroke-width="1.3" />
<rect x="908.7" y="662.5" width="7.9" height="22.5" fill="#da251d" stroke="#2a1f1a" stroke-width="1.3" />
<rect x="916.7" y="662.5" width="7.9" height="22.5" fill="#da251d" stroke="#2a1f1a" stroke-width="1.3" />
<rect x="924.6" y="663.0" width="7.9" height="22.7" fill="#da251d" stroke="#1f1a17" stroke-width="1" />
<rect x="383.3" y="678.0" width="8.6" height="22.5" fill="#0093dd" stroke="#2a1f1a" stroke-width="1.3" />
<rect x="391.9" y="678.0" width="8.6" height="22.5" fill="#0093dd" stroke="#2a1f1a" stroke-width="1.3" />
<circle cx="416.5" cy="689.5" r="10.0" fill="#da251d" stroke="#1f1a17" stroke-width="1.5" />
<circle cx="439.3" cy="689.5" r="10.0" fill="#da251d" stroke="#1f1a17" stroke-width="1.5" />
<rect x="860.8" y="751.8" width="22.5" height="8.1" fill="#0093dd" stroke="#2a1f1a" stroke-width="1.3" />
<rect x="860.8" y="759.9" width="22.5" height="8.1" fill="#0093dd" stroke="#2a1f1a" stroke-width="1.3" />
<rect x="860.8" y="768.0" width="22.5" height="8.1" fill="#da251d" stroke="#2a1f1a" stroke-width="1.3" />
<rect x="860.8" y="776.2" width="22.5" height="8.1" fill="#da251d" stroke="#2a1f1a" stroke-width="1.3" />
<rect x="808.3" y="1256.3" width="8.3" height="23.0" fill="#da251d" stroke="#2a1f1a" stroke-width="1.3" />
<rect x="816.6" y="1256.3" width="8.3" height="23.0" fill="#da251d" stroke="#2a1f1a" stroke-width="1.3" />
<rect x="825.0" y="1256.3" width="8.3" height="23.0" fill="#da251d" stroke="#2a1f1a" stroke-width="1.3" />
<rect x="1074.5" y="723.8" width="8.1" height="21.7" fill="#0093dd" stroke="#2a1f1a" stroke-width="1.3" />
<rect x="1082.6" y="723.8" width="8.1" height="21.7" fill="#0093dd" stroke="#2a1f1a" stroke-width="1.3" />
<rect x="1090.7" y="723.8" width="8.1" height="21.7" fill="#0093dd" stroke="#2a1f1a" stroke-width="1.3" />
<circle cx="1108.0" cy="735.0" r="10.0" fill="#da251d" stroke="#1f1a17" stroke-width="1.5" />
<polygon points="1140.1,735.0 1134.7,744.4 1123.9,744.4 1118.5,735.0 1123.9,725.6 1134.7,725.6" fill="#b9b4dc" stroke="#1f1a17" stroke-width="1.1" />
<rect x="1073.0" y="1512.5" width="8.2" height="22.5" fill="#0093dd" stroke="#2a1f1a" stroke-width="1.3" />
<rect x="1081.2" y="1512.5" width="8.2" height="22.5" fill="#0093dd" stroke="#2a1f1a" stroke-width="1.3" />
<rect x="1089.3" y="1512.5" width="8.2" height="22.5" fill="#0093dd" stroke="#2a1f1a" stroke-width="1.3" />
<rect x="1152.5" y="794.5" width="23.0" height="8.1" fill="#da251d" stroke="#2a1f1a" stroke-width="1.3" />
<rect x="1152.5" y="802.6" width="23.0" height="8.1" fill="#da251d" stroke="#2a1f1a" stroke-width="1.3" />
<rect x="1381.3" y="299.5" width="21.2" height="10.5" fill="#da251d" stroke="#1f1a17" stroke-width="1.1" />
<circle cx="1391.3" cy="321.3" r="10.3" fill="#da251d" stroke="#1f1a17" stroke-width="1.5" />
<circle cx="1391.3" cy="340.5" r="10.3" fill="#da251d" stroke="#1f1a17" stroke-width="1.5" />
<rect x="1461.8" y="506.8" width="21.5" height="10.1" fill="#da251d" stroke="#2a1f1a" stroke-width="1.3" />
<rect x="1461.8" y="516.9" width="21.5" height="10.1" fill="#da251d" stroke="#2a1f1a" stroke-width="1.3" />
<circle cx="1473.8" cy="537.5" r="10.5" fill="#0093dd" stroke="#1f1a17" stroke-width="1.5" />
<circle cx="1388.0" cy="908.8" r="10.5" fill="#0093dd" stroke="#1f1a17" stroke-width="1.5" />
<rect x="1377.0" y="920.0" width="23.0" height="8.0" fill="#da251d" stroke="#1f1a17" stroke-width="1.1" />
<rect x="1419.5" y="954.5" width="8.4" height="22.5" fill="#da251d" stroke="#2a1f1a" stroke-width="1.3" />
<rect x="1427.9" y="954.5" width="8.4" height="22.5" fill="#da251d" stroke="#2a1f1a" stroke-width="1.3" />
<rect x="1152.5" y="1108.3" width="22.5" height="8.1" fill="#da251d" stroke="#2a1f1a" stroke-width="1.3" />
<rect x="1152.5" y="1116.4" width="22.5" height="8.1" fill="#0093dd" stroke="#2a1f1a" stroke-width="1.3" />
<rect x="1152.5" y="1124.5" width="22.5" height="8.1" fill="#0093dd" stroke="#2a1f1a" stroke-width="1.3" />
<rect x="1152.5" y="1132.7" width="22.5" height="8.1" fill="#0093dd" stroke="#2a1f1a" stroke-width="1.3" />
<circle cx="1645.5" cy="1126.3" r="10.5" fill="#da251d" stroke="#1f1a17" stroke-width="1.5" />
<circle cx="1645.5" cy="1147.5" r="10.5" fill="#da251d" stroke="#1f1a17" stroke-width="1.5" />
<rect x="1636.3" y="1160.5" width="20.0" height="9.4" fill="#0093dd" stroke="#2a1f1a" stroke-width="1.3" />
<rect x="1636.3" y="1169.9" width="20.0" height="9.4" fill="#0093dd" stroke="#2a1f1a" stroke-width="1.3" />
<rect x="1635.0" y="1433.3" width="20.0" height="9.7" fill="#0093dd" stroke="#1f1a17" stroke-width="1.1" />
<circle cx="1644.5" cy="1456.3" r="10.5" fill="#da251d" stroke="#1f1a17" stroke-width="1.5" />
<circle cx="1644.5" cy="1477.3" r="10.5" fill="#da251d" stroke="#1f1a17" stroke-width="1.5" />
<polygon points="1373.0,371.1 1344.2,362.2 1343.2,366.0 1354.4,370.7 1343.3,374.8 1344.1,378.6" fill="#da251d" stroke="none" stroke-width="0" />
<polygon points="1369.4,493.0 1339.7,484.2 1338.9,488.0 1349.5,492.4 1339.3,496.2 1339.9,500.0" fill="#da251d" stroke="none" stroke-width="0" />
<polygon points="1398.8,623.8 1389.6,652.5 1393.4,653.5 1398.5,640.9 1403.1,652.7 1406.9,651.9" fill="#da251d" stroke="none" stroke-width="0" />
<polygon points="1366.5,753.3 1335.6,757.6 1336.4,761.4 1350.9,760.5 1341.8,770.0 1344.2,773.0" fill="#da251d" stroke="none" stroke-width="0" />
<polygon points="1363.0,884.9 1333.2,876.4 1332.4,880.2 1344.7,884.9 1333.2,889.4 1334.0,893.2" fill="#da251d" stroke="none" stroke-width="0" />
<polygon points="1375.8,849.3 1404.8,839.6 1405.8,843.4 1393.2,848.7 1405.2,853.1 1404.4,856.9" fill="#da251d" stroke="none" stroke-width="0" />
<polygon points="1390.0,931.3 1381.4,952.2 1385.2,953.4 1390.0,944.3 1394.4,951.8 1398.2,950.6" fill="#da251d" stroke="none" stroke-width="0" />
<line x1="1367.0" y1="257.7" x2="1392.5" y2="257.7" stroke="#1f1a17" stroke-width="1.2" />
<line x1="1392.5" y1="257.7" x2="1392.5" y2="299.5" stroke="#1f1a17" stroke-width="1.2" />
<line x1="1387.5" y1="253.8" x2="1401.8" y2="264.3" stroke="#1f1a17" stroke-width="1.2" />
<line x1="1384.5" y1="293.8" x2="1391.3" y2="298.8" stroke="#1f1a17" stroke-width="1.2" />
<polyline points="1190.8,266.3 1251.8,266.3 1344.1,373.7" fill="none" stroke="#1f1a17" stroke-width="1.5" />
<line x1="1264.5" y1="884.5" x2="1357.5" y2="884.5" stroke="#1f1a17" stroke-width="1.4" />
<circle cx="1334.5" cy="884.5" r="2.3" fill="none" stroke="#1f1a17" stroke-width="1" />
<polyline points="1510.8,828.8 1453.8,828.8 1380.0,849.3" fill="none" stroke="#1f1a17" stroke-width="1.4" />
<circle cx="1403.3" cy="844.5" r="1.8" fill="none" stroke="#1f1a17" stroke-width="0.9" />
<circle cx="1403.3" cy="848.3" r="2.2" fill="none" stroke="#1f1a17" stroke-width="0.9" />
<line x1="1393.8" y1="946.3" x2="1398.3" y2="984.5" stroke="#1f1a17" stroke-width="1.2" />
<rect x="0.0" y="0.0" width="1006.0" height="19.0" fill="url(#gbar)" stroke="none" stroke-width="1" />
<rect x="0.0" y="44.0" width="448.0" height="11.0" fill="url(#gbar)" stroke="none" stroke-width="1" />
<rect x="960.5" y="1636.2" width="1599.5" height="54.3" fill="url(#gbar)" stroke="none" stroke-width="1" />
<rect x="1774.0" y="1719.0" width="786.0" height="19.0" fill="url(#gbar)" stroke="none" stroke-width="1" />
<text x="2092.5" y="1604.2" font-size="76.8" fill="#1f1a17" text-anchor="start" stroke="#1f1a17" stroke-width="0.5" textLength="362.5" lengthAdjust="spacingAndGlyphs" >17,01,2021</text>
<text x="980.0" y="1677.4" font-size="38.4" fill="#fff" text-anchor="start" stroke="#fff" stroke-width="1.1" textLength="256" lengthAdjust="spacingAndGlyphs" >Масштаб 1:150</text>
<text x="1921.3" y="1675.7" font-size="38.3" fill="#fff" text-anchor="start" stroke="#fff" stroke-width="1.1" textLength="605" lengthAdjust="spacingAndGlyphs" >план освещения привязка к выкл</text>
<text x="281.0" y="682.5" font-size="27.2" fill="#1f1a17" text-anchor="start" stroke="#1f1a17" stroke-width="0.45" textLength="69.8" lengthAdjust="spacingAndGlyphs" >h-900</text>
<text x="936.5" y="127.0" font-size="27.2" fill="#1f1a17" text-anchor="start" stroke="#1f1a17" stroke-width="0.45" textLength="69.8" lengthAdjust="spacingAndGlyphs" >h-900</text>
<text x="984.5" y="760.0" font-size="27.2" fill="#1f1a17" text-anchor="start" stroke="#1f1a17" stroke-width="0.45" textLength="83.5" lengthAdjust="spacingAndGlyphs" >h-1100</text>
<text x="1371.5" y="523.8" font-size="27.2" fill="#1f1a17" text-anchor="start" stroke="#1f1a17" stroke-width="0.45" textLength="83.5" lengthAdjust="spacingAndGlyphs" >h-1100</text>
<text x="1671.5" y="1140.8" font-size="27.2" fill="#1f1a17" text-anchor="start" stroke="#1f1a17" stroke-width="0.45" textLength="69.8" lengthAdjust="spacingAndGlyphs" >h-900</text>
<text x="1677.0" y="1469.5" font-size="27.2" fill="#1f1a17" text-anchor="start" stroke="#1f1a17" stroke-width="0.45" textLength="69.8" lengthAdjust="spacingAndGlyphs" >h-900</text>
<text x="1081.5" y="1570.0" font-size="27.2" fill="#1f1a17" text-anchor="start" stroke="#1f1a17" stroke-width="0.45" textLength="69.8" lengthAdjust="spacingAndGlyphs" >h-900</text>
<text x="690.2" y="630.0" font-size="27.8" fill="#1f1a17" text-anchor="start" stroke="#1f1a17" stroke-width="0.45" textLength="34.8" lengthAdjust="spacingAndGlyphs" >TV</text>
<text x="302.8" y="1392.0" font-size="27.5" fill="#1f1a17" text-anchor="start" stroke="#1f1a17" stroke-width="0.45" textLength="34" lengthAdjust="spacingAndGlyphs" >TV</text>
<text x="1080.5" y="259.5" font-size="30.3" fill="#1f1a17" text-anchor="start" stroke="#1f1a17" stroke-width="0.45" textLength="130" lengthAdjust="spacingAndGlyphs" >подсветка</text>
<text x="1080.5" y="291.3" font-size="30.3" fill="#1f1a17" text-anchor="start" stroke="#1f1a17" stroke-width="0.45" textLength="177.5" lengthAdjust="spacingAndGlyphs" >под шкафами</text>
<text x="1429.3" y="302.8" font-size="26" fill="#1f1a17" text-anchor="start" stroke="#1f1a17" stroke-width="0.45" textLength="44" lengthAdjust="spacingAndGlyphs" transform="rotate(-90 1429.3 302.8)" >300</text>
<text x="1457.0" y="340.3" font-size="26" fill="#1f1a17" text-anchor="start" stroke="#1f1a17" stroke-width="0.45" textLength="69" lengthAdjust="spacingAndGlyphs" transform="rotate(-90 1457.0 340.3)" >h-900</text>
<text x="1241.5" y="865.0" font-size="18.6" fill="#1f1a17" text-anchor="start" stroke="#1f1a17" stroke-width="0.45" textLength="58" lengthAdjust="spacingAndGlyphs" >h-1600</text>
<text x="1241.0" y="879.4" font-size="16.6" fill="#1f1a17" text-anchor="start" stroke="#1f1a17" stroke-width="0.45" textLength="68.8" lengthAdjust="spacingAndGlyphs" >зеркало с</text>
<text x="1241.0" y="896.8" font-size="16.6" fill="#1f1a17" text-anchor="start" stroke="#1f1a17" stroke-width="0.45" textLength="80" lengthAdjust="spacingAndGlyphs" >подсветкой</text>
<text x="1453.8" y="826.3" font-size="16.6" fill="#1f1a17" text-anchor="start" stroke="#1f1a17" stroke-width="0.45" textLength="68.8" lengthAdjust="spacingAndGlyphs" >зеркало с</text>
<text x="1453.8" y="843.3" font-size="16.6" fill="#1f1a17" text-anchor="start" stroke="#1f1a17" stroke-width="0.45" textLength="78.8" lengthAdjust="spacingAndGlyphs" >подсветкой</text>
<text x="1453.8" y="861.8" font-size="16.7" fill="#1f1a17" text-anchor="start" stroke="#1f1a17" stroke-width="0.45" textLength="51.8" lengthAdjust="spacingAndGlyphs" >h-1600</text>
<text x="1369.0" y="1009.5" font-size="24.5" fill="#1f1a17" text-anchor="start" stroke="#1f1a17" stroke-width="0.45" textLength="127" lengthAdjust="spacingAndGlyphs" >п/суш 70/50</text>
<text x="1369.0" y="1035.5" font-size="24.5" fill="#1f1a17" text-anchor="start" stroke="#1f1a17" stroke-width="0.45" textLength="81" lengthAdjust="spacingAndGlyphs" >правый</text>
</svg>
</body></html>
